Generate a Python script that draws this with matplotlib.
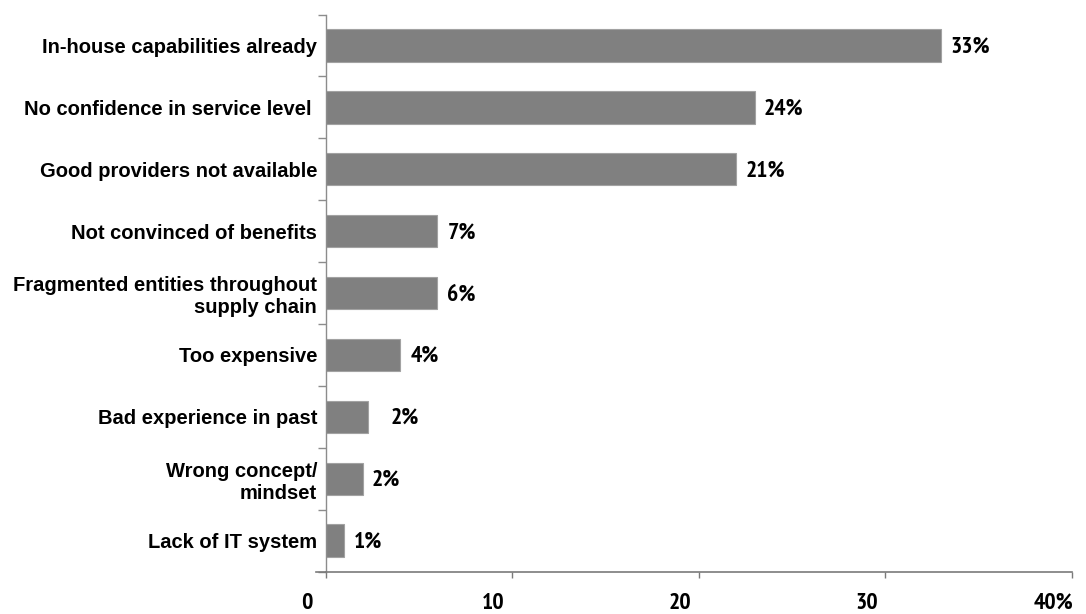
import matplotlib
matplotlib.use('Agg')
import matplotlib.pyplot as plt
from matplotlib import font_manager
import matplotlib.transforms as mtransforms

# ---- data ----
categories = [
    "In-house capabilities already",
    "No confidence in service level ",
    "Good providers not available",
    "Not convinced of benefits",
    "Fragmented entities throughout\nsupply chain",
    "Too expensive",
    "Bad experience in past",
    "Wrong concept/\nmindset",
    "Lack of IT system",
]
bar_values = [33.0, 23.0, 22.0, 6.0, 6.0, 4.0, 2.3, 2.0, 1.0]
value_labels = ["33%", "24%", "21%", "7%", "6%", "4%", "2%", "2%", "1%"]
x_ticks = [0, 10, 20, 30, 40]
x_tick_labels = ["0", "10", "20", "30", "40%"]

# label gaps (pixels) after bar ends
label_gap_px = [9, 9, 9, 10, 10, 10, 22, 9, 10]


# ---- fonts ----
def _w(f):
    w = f.weight
    if isinstance(w, str):
        return 700 if 'bold' in w.lower() else 400
    return int(w)


bold_fams = {f.name for f in font_manager.fontManager.ttflist if _w(f) == 700}
narrow_family = 'Liberation Sans'
narrow_size = 13.5
for fam, size in [('Liberation Sans Narrow', 16.5), ('Arial Narrow', 16.5),
                  ('PT Sans Narrow', 17.0), ('Archivo Narrow', 16.0),
                  ('Roboto Condensed', 16.0), ('Barlow Semi Condensed', 16.0),
                  ('Asap Condensed', 15.5)]:
    if fam in bold_fams:
        narrow_family, narrow_size = fam, size
        break
label_family = 'Liberation Sans'

W, H = 1086, 614
fig = plt.figure(figsize=(W / 100, H / 100), dpi=100)
left_px, right_px, top_px, bottom_px = 325.5, 1072, 14.6, 571.5
ax = fig.add_axes([left_px / W, 1 - bottom_px / H,
                   (right_px - left_px) / W, (bottom_px - top_px) / H])

y = list(range(len(categories)))
ax.barh(y, bar_values, height=0.52, color='#808080',
        edgecolor='#a2a2a2', linewidth=0.8, zorder=2)

ax.set_xlim(0, 40)
ax.set_ylim(len(categories) - 0.5, -0.5)

for s in ('top', 'right'):
    ax.spines[s].set_visible(False)
ax.spines['left'].set_color('#8c8c8c')
ax.spines['left'].set_linewidth(1.0)
ax.spines['bottom'].set_color('#7a7a7a')
ax.spines['bottom'].set_linewidth(1.2)

# extension of bottom axis line to the left
ax.plot([-10 / (right_px - left_px), 0], [0, 0], transform=ax.transAxes,
        clip_on=False, color='#7a7a7a', lw=1.2)

# y axis
ax.set_yticks(y)
ax.set_yticklabels(categories, fontfamily=label_family, fontweight='bold',
                   fontsize=14.5, linespacing=1.2)
ax.tick_params(axis='y', which='major', length=0, pad=6)
ax.set_yticks([i - 0.5 for i in range(len(categories) + 1)], minor=True)
ax.tick_params(axis='y', which='minor', length=5.8, width=1.0,
               color='#8c8c8c', direction='out')

# x axis
ax.set_xticks(x_ticks)
ax.set_xticklabels(x_tick_labels, fontfamily=narrow_family,
                   fontweight='bold', fontsize=narrow_size)
ax.tick_params(axis='x', which='major', length=4.3, width=1.0,
               color='#7a7a7a', direction='out', pad=11)
offset = mtransforms.ScaledTranslation(-19 / 100, 0, fig.dpi_scale_trans)
for lab in ax.get_xticklabels():
    lab.set_transform(lab.get_transform() + offset)

# value labels
for i, (v, txt, gap) in enumerate(zip(bar_values, value_labels, label_gap_px)):
    ax.annotate(txt, xy=(v, i), xytext=(gap * 0.72, -1.2),
                textcoords='offset points', ha='left', va='center',
                fontfamily=narrow_family, fontweight='bold',
                fontsize=narrow_size, color='black')

fig.savefig('out.png', dpi=100)
